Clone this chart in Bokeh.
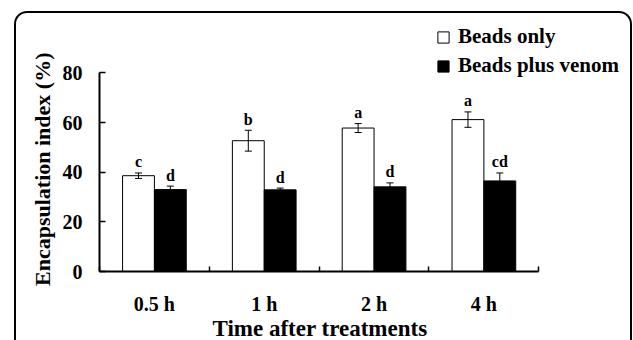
from bokeh.plotting import figure
from bokeh.models import (ColumnDataSource, Range1d, FixedTicker, Whisker, TeeHead,
                          Legend, LegendItem, Title)
from bokeh.transform import dodge
from bokeh.core.properties import value
from bokeh.embed import file_html
from bokeh.resources import INLINE

times = ["0.5 h", "1 h", "2 h", "4 h"]
beads_only = [38.6, 52.7, 57.8, 61.2]
beads_only_err = [1.1, 4.2, 1.8, 3.1]
beads_only_letters = ["c", "b", "a", "a"]
beads_venom = [33.0, 32.9, 34.1, 36.5]
beads_venom_err = [1.4, 0.7, 1.6, 3.2]
beads_venom_letters = ["d", "d", "d", "cd"]
y_ticks = [0, 20, 40, 60, 80]
x_title = "Time after treatments"
y_title = "Encapsulation index (%)"

FONT = "Liberation Serif"
BW = 0.29

centers = [i + 0.5 for i in range(len(times))]
bounds = [float(i) for i in range(len(times) + 1)]

src = ColumnDataSource(dict(
    x=centers,
    a=beads_only, a_lo=[v - e for v, e in zip(beads_only, beads_only_err)],
    a_hi=[v + e for v, e in zip(beads_only, beads_only_err)], a_t=beads_only_letters,
    b=beads_venom, b_lo=[v - e for v, e in zip(beads_venom, beads_venom_err)],
    b_hi=[v + e for v, e in zip(beads_venom, beads_venom_err)], b_t=beads_venom_letters,
))

# frame: axes occupy 0..4 (x) and 0..80 (y); extra room above/right holds the legend
p = figure(width=614, height=327, output_backend="svg", toolbar_location=None,
           x_range=Range1d(0, 529 / 109), y_range=Range1d(0, 80 * 254 / 197),
           min_border_left=83, min_border_top=2, min_border_right=2, min_border_bottom=71)
p.styles = {"position": "relative", "left": "14px", "top": "11px",
            "box-sizing": "content-box",
            "border-left": "2px solid black", "border-top": "2px solid black",
            "border-right": "2px solid black", "border-top-left-radius": "13px",
            "border-top-right-radius": "13px"}
p.outline_line_color = None
p.background_fill_color = None
p.border_fill_color = None
p.xgrid.visible = False
p.ygrid.visible = False

r_a = p.vbar(x=dodge("x", -BW / 2, range=p.x_range), top="a", width=BW, source=src,
             fill_color="white", line_color="black", line_width=1)
r_b = p.vbar(x=dodge("x", BW / 2, range=p.x_range), top="b", width=BW, source=src,
             fill_color="black", line_color="black", line_width=1)

for xo, lo, hi in [(-BW / 2, "a_lo", "a_hi"), (BW / 2, "b_lo", "b_hi")]:
    w = Whisker(base=dodge("x", xo, range=p.x_range), lower=lo, upper=hi, source=src,
                line_color="black", line_width=1, level="overlay",
                upper_head=TeeHead(size=7, line_color="black", line_width=1),
                lower_head=TeeHead(size=7, line_color="black", line_width=1))
    p.add_layout(w)

for xo, hi, t in [(-BW / 2, "a_hi", "a_t"), (BW / 2, "b_hi", "b_t")]:
    p.text(x=dodge("x", xo, range=p.x_range), y=hi, text=t, source=src,
           text_font=value(FONT), text_font_style="bold", text_font_size="16px",
           text_align="center", text_baseline="alphabetic", y_offset=-11, text_color="black")

# axes
p.xaxis.bounds = (0, len(times))
p.xaxis.ticker = FixedTicker(ticks=centers, minor_ticks=bounds)
p.xaxis.major_label_overrides = {c: t for c, t in zip(centers, times)}
p.xaxis.major_tick_in = 0
p.xaxis.major_tick_out = 0
p.xaxis.minor_tick_in = 5
p.xaxis.minor_tick_out = 0
p.xaxis.minor_tick_line_color = "black"
p.xaxis.minor_tick_line_width = 1.5
p.xaxis.major_label_standoff = 21

p.yaxis.bounds = (0, 80)
p.yaxis.ticker = FixedTicker(ticks=y_ticks)
p.yaxis.major_tick_in = 6
p.yaxis.major_tick_out = 0
p.yaxis.minor_tick_line_color = None
p.yaxis.major_label_standoff = 17

for ax in (p.xaxis, p.yaxis):
    ax.axis_line_color = "black"
    ax.axis_line_width = 2
    ax.major_tick_line_color = "black"
    ax.major_tick_line_width = 1.5
    ax.major_label_text_font = FONT
    ax.major_label_text_font_style = "bold"
    ax.major_label_text_font_size = "20px"
    ax.major_label_text_color = "black"

# axis titles, placed on the axes' own extent (the frame is wider than the axes)
p.add_layout(Title(text=x_title, align="left", offset=113, standoff=-4, vertical_align="top",
                   text_font=FONT, text_font_style="bold", text_font_size="23px",
                   text_color="black"), "below")
p.add_layout(Title(text=y_title, align="right", offset=37, standoff=9,
                   text_font=FONT, text_font_style="bold", text_font_size="22px",
                   text_color="black"), "left")

legend = Legend(items=[LegendItem(label="Beads only", renderers=[r_a]),
                       LegendItem(label="Beads plus venom", renderers=[r_b])],
                location=(337, 193), orientation="vertical",
                glyph_width=14, glyph_height=14, label_standoff=8, spacing=4,
                label_height=23, padding=0, margin=0,
                border_line_color=None, background_fill_alpha=0,
                label_text_font=FONT, label_text_font_style="bold",
                label_text_font_size="21px", label_text_color="black")
p.add_layout(legend, "center")

open("out.html", "w").write(file_html(p, INLINE))
